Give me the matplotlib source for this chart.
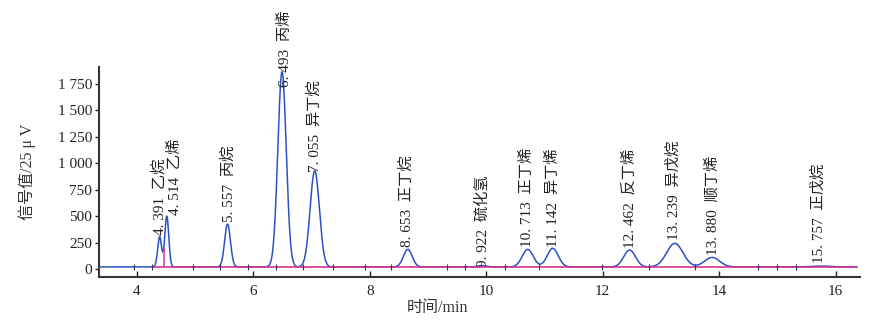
import numpy as np
import matplotlib
matplotlib.use("Agg")
import matplotlib.pyplot as plt

plt.rcParams['font.family'] = ['Liberation Serif', 'Noto Sans CJK SC']

# Peak data
ret_times = [4.391, 4.514, 5.557, 6.493, 7.055, 8.653, 9.922, 10.713, 11.142, 12.462, 13.239, 13.880, 15.757]
heights   = [285, 480, 405, 1846, 910, 166, 12, 166, 176, 160, 223, 90, 8]
widths    = [0.034, 0.034, 0.05, 0.072, 0.08, 0.075, 0.08, 0.095, 0.095, 0.10, 0.14, 0.13, 0.17]
names     = ['乙烷', '乙烯', '丙烷', '丙烯', '异丁烷', '正丁烷', '硫化氢', '正丁烯', '异丁烯', '反丁烯', '异戊烷', '顺丁烯', '正戊烷']
label_x   = [4.39, 4.655, 5.57, 6.54, 7.06, 8.64, 9.94, 10.70, 11.15, 12.46, 13.21, 13.88, 15.70]
label_y   = [322, 511, 445, 1722, 918, 208, 20, 208, 208, 198, 274, 132, 57]
baseline_level = 20
marker_times = [3.95, 4.26, 4.96, 5.43, 5.91, 6.39, 6.85, 7.37, 7.91, 8.36, 9.33, 9.64,
                10.32, 10.90, 11.98, 12.80, 13.58, 14.67, 14.99, 15.32]
drop_time = 4.46

yticks = [0, 250, 500, 750, 1000, 1250, 1500, 1750]
yticklabels = ['0', '250', '500', '750', '1 000', '1 250', '1 500', '1 750']
xticks = [4, 6, 8, 10, 12, 14, 16]

t = np.linspace(3.35, 16.37, 6000)
sig = np.full_like(t, float(baseline_level))
for rt, h, w in zip(ret_times, heights, widths):
    sig += h * np.exp(-0.5 * ((t - rt) / w) ** 2)

fig = plt.figure(figsize=(8.74, 3.22), dpi=100)
ax = fig.add_axes([0.1133, 0.1398, 0.8707, 0.652])

blue = '#2b52c4'
mag = '#d4358f'
ax.plot(t, sig, color=blue, lw=1.1, zorder=3)
ax.plot([4.26, 16.35], [baseline_level, baseline_level], color=mag, lw=1.2, zorder=4)
# drop line between ethane/ethylene
valley = baseline_level + sum(h * np.exp(-0.5 * ((drop_time - rt) / w) ** 2)
                              for rt, h, w in zip(ret_times, heights, widths))
ax.plot([drop_time, drop_time], [baseline_level, valley], color=mag, lw=1.1, zorder=4)
ax.plot(marker_times, [baseline_level] * len(marker_times), linestyle='none',
        marker='|', markersize=5, color='#333366', mew=0.8, zorder=5)

for rt, nm, lx, ly in zip(ret_times, names, label_x, label_y):
    whole, frac = f"{rt:.3f}".split('.')
    ax.text(lx, ly, f"{whole}. {frac}  {nm}", rotation=90, ha='center', va='bottom',
            fontsize=11, color='#222222', clip_on=False)

ax.set_xlim(3.35, 16.42)
ax.set_ylim(-75, 1910)
ax.set_xticks(xticks)
ax.set_xticklabels([str(v) for v in xticks])
ax.set_yticks(yticks)
ax.set_yticklabels(yticklabels)
ax.tick_params(axis='x', direction='in', length=4, width=1, labelsize=11, pad=6, colors='#222222')
ax.tick_params(axis='y', direction='out', length=3, width=1, labelsize=11, pad=2, colors='#222222')
for s in ['top', 'right']:
    ax.spines[s].set_visible(False)
for s in ['left', 'bottom']:
    ax.spines[s].set_linewidth(1.5)
    ax.spines[s].set_color('#333333')

ax.set_ylabel('信号值/25 μ V', fontsize=11.5, color='#333333')
ax.yaxis.set_label_coords(-0.083, 0.5)
fig.text(437 / 874, 1 - 308 / 322, '时间/min', ha='center', va='center', fontsize=11.5, color='#333333')

fig.savefig('out.png', dpi=100)
